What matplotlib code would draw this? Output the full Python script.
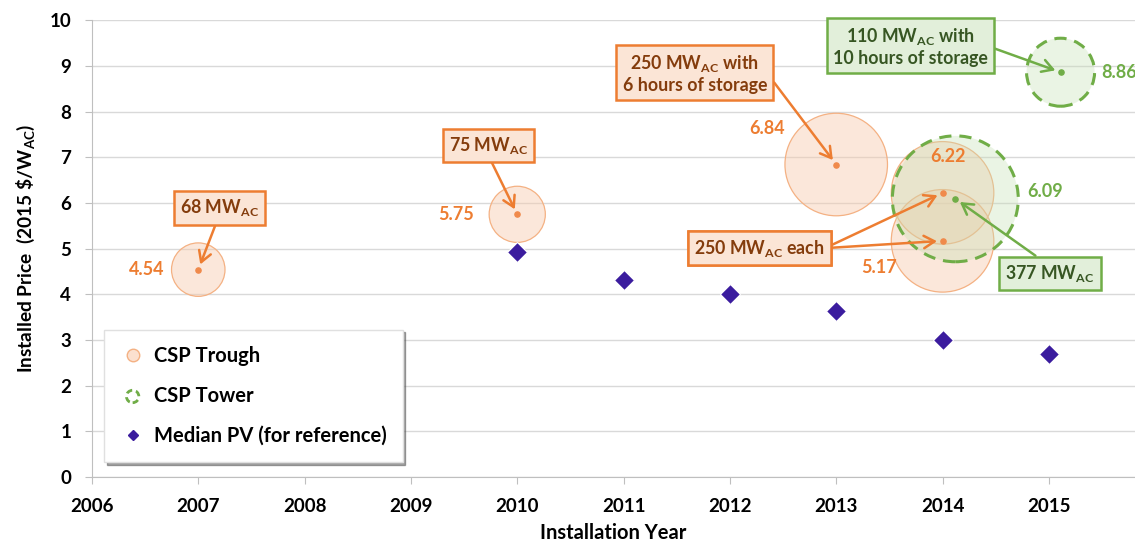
import matplotlib.pyplot as plt
from matplotlib.lines import Line2D

plt.rcParams['font.family'] = ['Lato', 'DejaVu Sans']
plt.rcParams['font.weight'] = 'bold'
plt.rcParams['axes.labelweight'] = 'bold'
plt.rcParams['mathtext.fontset'] = 'custom'
plt.rcParams['mathtext.rm'] = 'Lato:bold'
plt.rcParams['mathtext.bf'] = 'Lato:bold'
plt.rcParams['mathtext.it'] = 'Lato:italic'

# CSP trough projects
trough_year = [2007, 2010, 2013, 2014, 2014]
trough_price = [4.54, 5.75, 6.84, 6.22, 5.17]
trough_mw = [68, 75, 250, 250, 250]

# CSP tower projects
tower_year = [2014.12, 2015.11]
tower_price = [6.09, 8.86]
tower_mw = [377, 110]

# median PV for reference
pv_year = [2010, 2011, 2012, 2013, 2014, 2015]
pv_price = [4.93, 4.32, 4.00, 3.64, 3.00, 2.70]

x_ticks = list(range(2006, 2016))
y_ticks = list(range(0, 11))

orange = '#ED7D31'
brown = '#843C0C'
green = '#70AD47'
dkgreen = '#375623'
purple = '#3B1C9E'

# bubble area proportional to MW
k = 21.8

fig, ax = plt.subplots(figsize=(11.35, 5.44), dpi=100)
fig.subplots_adjust(left=0.081, right=1.0, bottom=0.123, top=0.963)

ax.scatter(trough_year, trough_price, s=[k * m for m in trough_mw],
           facecolor='#F8CBAD', edgecolor='none', alpha=0.45, zorder=3)
ax.scatter(trough_year, trough_price, s=[k * m for m in trough_mw],
           facecolor='none', edgecolor='#F4B183', linewidth=0.9, zorder=3)
ax.scatter(tower_year, tower_price, s=[k * m for m in tower_mw],
           facecolor='#C5E0B4', edgecolor='none', alpha=0.35, zorder=4)
ax.scatter(tower_year, tower_price, s=[k * m for m in tower_mw],
           facecolor='none', edgecolor=green, linewidth=2.2,
           linestyle=(0, (4, 2.6)), zorder=4)
ax.scatter(trough_year, trough_price, s=14, color='#F08A4B', zorder=6)
ax.scatter(tower_year, tower_price, s=14, color=green, zorder=6)
ax.plot(pv_year, pv_price, 'D', ms=10.5, color=purple, mec='white', mew=0.8,
        zorder=5)

# value labels
lbl_off = [(-24, 0, 'right'), (-31, 0, 'right'), (-37, 26, 'right'),
           (4, 26, 'center'), (-33, -19, 'right')]
for x, y, (dx, dy, ha) in zip(trough_year, trough_price, lbl_off):
    ax.annotate(f'{y:.2f}', (x, y), xytext=(dx, dy), textcoords='offset points',
                ha=ha, va='center', color=orange, fontsize=13,
                fontweight='bold', zorder=7)
tw_off = [(52, 5, 'left'), (29, 0, 'left')]
for x, y, (dx, dy, ha) in zip(tower_year, tower_price, tw_off):
    ax.annotate(f'{y:.2f}', (x, y), xytext=(dx, dy), textcoords='offset points',
                ha=ha, va='center', color=green, fontsize=13,
                fontweight='bold', zorder=7, annotation_clip=False)

sub = r'$_{\mathbf{AC}}$'
obox = dict(boxstyle='square,pad=0.35', fc='#FBE5D6', ec=orange, lw=1.8)
gbox = dict(boxstyle='square,pad=0.35', fc='#E2EFDA', ec=green, lw=1.8)


def callout(text, target, pos, box, color, tcolor, rel):
    ax.annotate(text, target, xytext=pos, ha='center', va='center',
                fontsize=12.8, fontweight='bold', color=tcolor, bbox=box,
                zorder=8, multialignment='center', annotation_clip=False,
                arrowprops=dict(arrowstyle='->,head_length=0.6,head_width=0.35',
                                color=color, lw=1.8, shrinkA=0, shrinkB=4,
                                relpos=rel))


callout('68 MW' + sub, (trough_year[0], trough_price[0]), (2007.2, 5.89),
        obox, orange, brown, (0.48, 0))
callout('75 MW' + sub, (trough_year[1], trough_price[1]), (2009.73, 7.26),
        obox, orange, brown, (0.5, 0))
callout('250 MW' + sub + ' with\n6 hours of storage',
        (trough_year[2], trough_price[2]), (2011.67, 8.84),
        obox, orange, brown, (1, 0.5))
callout('250 MW' + sub + ' each', (trough_year[3], trough_price[3]),
        (2012.28, 5.01), obox, orange, brown, (1, 0.5))
callout('250 MW' + sub + ' each', (trough_year[4], trough_price[4]),
        (2012.28, 5.01), obox, orange, brown, (1, 0.5))
callout('110 MW' + sub + ' with\n10 hours of storage',
        (tower_year[1], tower_price[1]), (2013.70, 9.43),
        gbox, green, dkgreen, (1, 0.5))
callout('377 MW' + sub, (tower_year[0], tower_price[0]), (2015.01, 4.46),
        gbox, green, dkgreen, (0.45, 1))

ax.set_xlim(2006, 2015.81)
ax.set_ylim(0, 10)
ax.set_xticks(x_ticks, [str(t) for t in x_ticks], fontsize=13.5,
              fontweight='bold')
ax.set_yticks(y_ticks, [str(t) for t in y_ticks], fontsize=13.5,
              fontweight='bold')
ax.tick_params(color='#BFBFBF')
ax.tick_params(axis='x', length=5, pad=10)
ax.tick_params(axis='y', length=5, pad=10)
ax.yaxis.grid(True, color='#D9D9D9', lw=1)
ax.set_axisbelow(True)
for s in ['top', 'right']:
    ax.spines[s].set_visible(False)
for s in ['left', 'bottom']:
    ax.spines[s].set_color('#BFBFBF')

ax.set_xlabel('Installation Year', fontsize=14.5, fontweight='bold',
              labelpad=6)
ax.set_ylabel(r'Installed Price  (2015 \$/W' + sub + ')', fontsize=13.8,
              fontweight='bold', labelpad=9)

handles = [
    Line2D([], [], ls='none', marker='o', ms=9, mfc='#FBE0CF', mec='#F4B183',
           mew=1),
    ax.scatter([], [], s=80, facecolor='none', edgecolor=green, linewidth=2,
               linestyle=(0, (2.2, 1.4))),
    Line2D([], [], ls='none', marker='D', ms=5, color=purple),
]
labels = ['CSP Trough', 'CSP Tower', 'Median PV (for reference)']
leg = ax.legend(handles, labels, loc='lower left',
                bbox_to_anchor=(0.012, 0.033),
                prop=dict(family='Lato', size=14.5, weight='bold'),
                frameon=True, fancybox=False, shadow=True, labelspacing=1.0,
                borderpad=0.8, handlelength=1.2, handletextpad=0.45,
                borderaxespad=0)
leg.get_frame().set_edgecolor('#E0E0E0')

fig.savefig('out.png', dpi=100)
